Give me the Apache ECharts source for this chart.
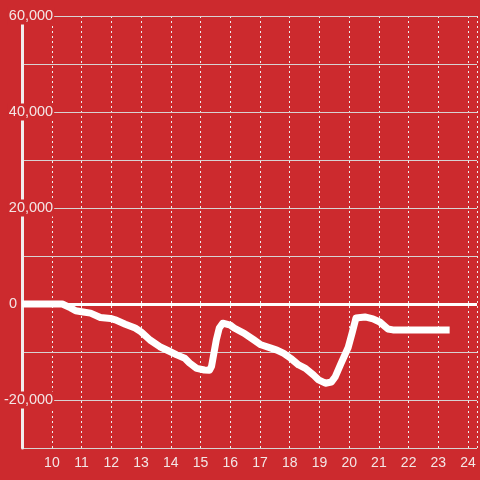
<!DOCTYPE html>
<html>
<head>
<meta charset="utf-8">
<script src="https://cdn.jsdelivr.net/npm/echarts@6/dist/echarts.min.js"></script>
<style>
  html, body { margin: 0; padding: 0; background: #cc2a2e; }
  #chart { width: 480px; height: 480px; }
</style>
</head>
<body>
<div id="chart"></div>
<script>
// time of day (hours) and running value
const hours = [9.0, 10.35, 10.63, 10.8, 11.0, 11.3, 11.63, 11.97, 12.13, 12.47, 12.8, 13.0, 13.3, 13.63, 13.97,
  14.2, 14.47, 14.63, 14.87, 15.13, 15.3, 15.37, 15.53, 15.63, 15.75, 16.0, 16.13, 16.47, 16.8, 17.03, 17.37,
  17.57, 17.8, 18.03, 18.3, 18.53, 18.8, 18.97, 19.2, 19.4, 19.53, 19.73, 19.97, 20.1, 20.23, 20.53, 20.8,
  21.03, 21.3, 21.47, 23.38];
const values = [0, 0, -800, -1400, -1600, -1900, -2800, -3000, -3300, -4200, -5000, -5800, -7500, -8900, -9900,
  -10600, -11300, -12300, -13400, -13750, -13800, -13000, -7500, -5000, -4000, -4400, -5000, -6100, -7500, -8500, -9200,
  -9600, -10300, -11300, -12700, -13400, -14800, -15800, -16500, -16250, -15200, -12300, -9000, -6000, -2900, -2700, -3100,
  -3750, -5200, -5400, -5400];
const yTicks = [-20000, 0, 20000, 40000, 60000];

const bg = "#cc2a2e";
const txt = "#f3e6e6";
const chart = echarts.init(document.getElementById("chart"));

const option = {
  backgroundColor: bg,
  animation: false,
  textStyle: { fontFamily: "Liberation Sans, Arial, sans-serif" },
  grid: { left: 21, right: 0, top: 16, bottom: 32, containLabel: false },
  xAxis: {
    type: "value",
    min: 9,
    max: 24.3,
    interval: 1,
    axisLine: { show: false },
    axisTick: { show: false },
    axisLabel: {
      color: txt,
      fontSize: 14,
      margin: 8,
      formatter: (v) => (Number.isInteger(v) && v > 9 ? String(v) : ""),
    },
    splitLine: { show: true, lineStyle: { color: "#eeeeee", type: [2, 3], width: 1 } },
  },
  yAxis: {
    type: "value",
    min: -30000,
    max: 60000,
    interval: 10000,
    z: 3,
    axisLine: { show: true, lineStyle: { color: "#f2eded", width: 3 } },
    axisTick: { show: false },
    axisLabel: {
      color: txt,
      fontSize: 14,
      margin: -32,
      formatter: (v) => {
        if (v === 0) return "{z|0}";
        if (!yTicks.includes(v)) return "";
        return "{n|" + v.toLocaleString("en-US") + "}";
      },
      rich: {
        n: { color: txt, fontSize: 14.5, backgroundColor: bg, padding: [1, 1, 1, 1] },
        z: { color: txt, fontSize: 14.5, padding: [0, 37, 0, 0] },
      },
    },
    splitLine: { show: true, lineStyle: { color: "#d8d2d2", width: 1 } },
  },
  series: [
    {
      type: "line",
      z: 5,
      data: hours.map((h, i) => [h, values[i]]),
      showSymbol: false,
      smooth: false,
      lineStyle: { color: "#ffffff", width: 7, join: "round" },
      markLine: {
        silent: true,
        symbol: "none",
        label: { show: false },
        lineStyle: { color: "#ffffff", type: "solid", width: 3 },
        data: [{ yAxis: 0 }],
      },
    },
  ],
};
option && chart.setOption(option);
</script>
</body>
</html>
